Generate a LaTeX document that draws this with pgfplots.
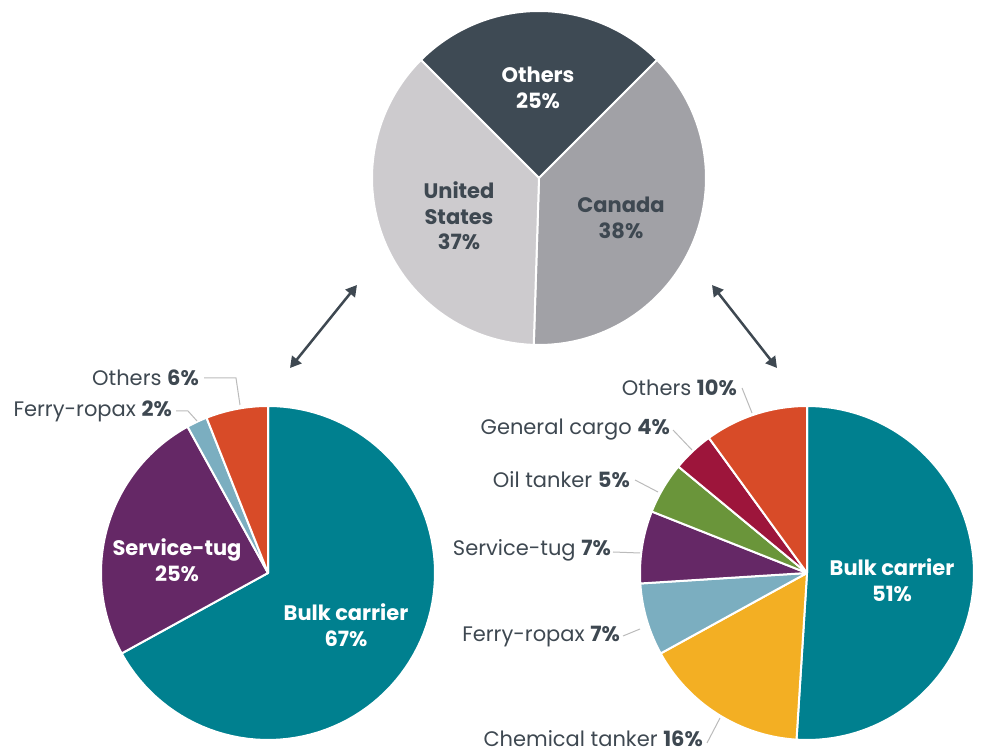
\documentclass[border=0pt]{standalone}
\usepackage{pgfplots}
\pgfplotsset{compat=1.18}
\usepackage{fontspec}
\setmainfont{Poppins}
\usetikzlibrary{arrows.meta}
\definecolor{cBulk}{HTML}{00808F}
\definecolor{cTug}{HTML}{652866}
\definecolor{cFerry}{HTML}{7BAEC0}
\definecolor{cOth}{HTML}{D84B28}
\definecolor{cChem}{HTML}{F3AF23}
\definecolor{cOil}{HTML}{6A953A}
\definecolor{cGen}{HTML}{9D153B}
\definecolor{cTopOth}{HTML}{3E4A54}
\definecolor{cCan}{HTML}{A1A1A6}
\definecolor{cUS}{HTML}{CDCBCE}
\definecolor{txt}{HTML}{3E4851}
\definecolor{lead}{HTML}{BBBBBB}
% #1 cx, #2 cy, #3 start angle, #4 cumulative percent before slice, #5 percent, #6 colour
\newcommand\slice[6]{%
  \addplot[fill=#6, draw=white, line width=2pt, line join=round,
    domain={#3-3.6*(#4+#5)}:{#3-3.6*#4}, samples=90]
    ({#1+167*cos(x)},{#2+167*sin(x)}) -- (axis cs:#1,#2) -- cycle;}
\newcommand\fs{\fontsize{21}{25.5}\selectfont}
\begin{document}
\begin{tikzpicture}
\begin{axis}[width=993pt,height=754pt,scale only axis,
  xmin=0,xmax=993,ymin=0,ymax=754,hide axis,clip=false]
\path (rel axis cs:0,0) rectangle (rel axis cs:1,1);
% top pie: Others 25, Canada 38, United States 37
\slice{539}{576}{135}{0}{25}{cTopOth}
\slice{539}{576}{135}{25}{38}{cCan}
\slice{539}{576}{135}{63}{37}{cUS}
% left pie: Bulk 67, Service-tug 25, Ferry-ropax 2, Others 6
\slice{268}{181}{90}{0}{67}{cBulk}
\slice{268}{181}{90}{67}{25}{cTug}
\slice{268}{181}{90}{92}{2}{cFerry}
\slice{268}{181}{90}{94}{6}{cOth}
% right pie: Bulk 51, Chemical 16, Ferry 7, Service 7, Oil 5, General 4, Others 10
\slice{807}{181}{90}{0}{51}{cBulk}
\slice{807}{181}{90}{51}{16}{cChem}
\slice{807}{181}{90}{67}{7}{cFerry}
\slice{807}{181}{90}{74}{7}{cTug}
\slice{807}{181}{90}{81}{5}{cOil}
\slice{807}{181}{90}{86}{4}{cGen}
\slice{807}{181}{90}{90}{10}{cOth}
% arrows
\addplot[txt, line width=2.5pt, {Triangle[length=11pt,width=12pt]}-{Triangle[length=11pt,width=12pt]}] coordinates {(290,386) (357,469)};
\addplot[txt, line width=2.5pt, {Triangle[length=11pt,width=12pt]}-{Triangle[length=11pt,width=12pt]}] coordinates {(712,469) (777,386)};
% leader lines
\addplot[lead, line width=1pt] coordinates {(204,376) (236,376) (240,349)};
\addplot[lead, line width=1pt] coordinates {(176,343) (188,343) (197,333)};
\addplot[lead, line width=1pt] coordinates {(742,366) (752,341)};
\addplot[lead, line width=1pt] coordinates {(673,324) (692,304)};
\addplot[lead, line width=1pt] coordinates {(635,274) (658,262)};
\addplot[lead, line width=1pt] coordinates {(613,202) (640,201)};
\addplot[lead, line width=1pt] coordinates {(623,118) (640,125)};
\addplot[lead, line width=1pt] coordinates {(707,11) (720,36)};
% inside labels
\node[white, align=center, font=\fs\bfseries] at (axis cs:538,666) {Others\\25\%};
\node[txt, align=center, font=\fs\bfseries] at (axis cs:459,538) {United\\States\\37\%};
\node[txt, align=center, font=\fs\bfseries] at (axis cs:621,536) {Canada\\38\%};
\node[white, align=center, font=\fs\bfseries] at (axis cs:177,194) {Service-tug\\25\%};
\node[white, align=center, font=\fs\bfseries] at (axis cs:346,129) {Bulk carrier\\67\%};
\node[white, align=center, font=\fs\bfseries] at (axis cs:892,174) {Bulk carrier\\51\%};
% outside labels
\node[txt, anchor=east, inner sep=0pt, font=\fs] at (axis cs:199,376) {Others \textbf{6\%}};
\node[txt, anchor=east, inner sep=0pt, font=\fs] at (axis cs:172,343) {Ferry-ropax \textbf{2\%}};
\node[txt, anchor=east, inner sep=0pt, font=\fs] at (axis cs:737,366) {Others \textbf{10\%}};
\node[txt, anchor=east, inner sep=0pt, font=\fs] at (axis cs:670,324) {General cargo \textbf{4\%}};
\node[txt, anchor=east, inner sep=0pt, font=\fs] at (axis cs:630,274) {Oil tanker \textbf{5\%}};
\node[txt, anchor=east, inner sep=0pt, font=\fs] at (axis cs:611,204) {Service-tug \textbf{7\%}};
\node[txt, anchor=east, inner sep=0pt, font=\fs] at (axis cs:620,117) {Ferry-ropax \textbf{7\%}};
\node[txt, anchor=east, inner sep=0pt, font=\fs] at (axis cs:703,15) {Chemical tanker \textbf{16\%}};
\end{axis}
\end{tikzpicture}
\end{document}
